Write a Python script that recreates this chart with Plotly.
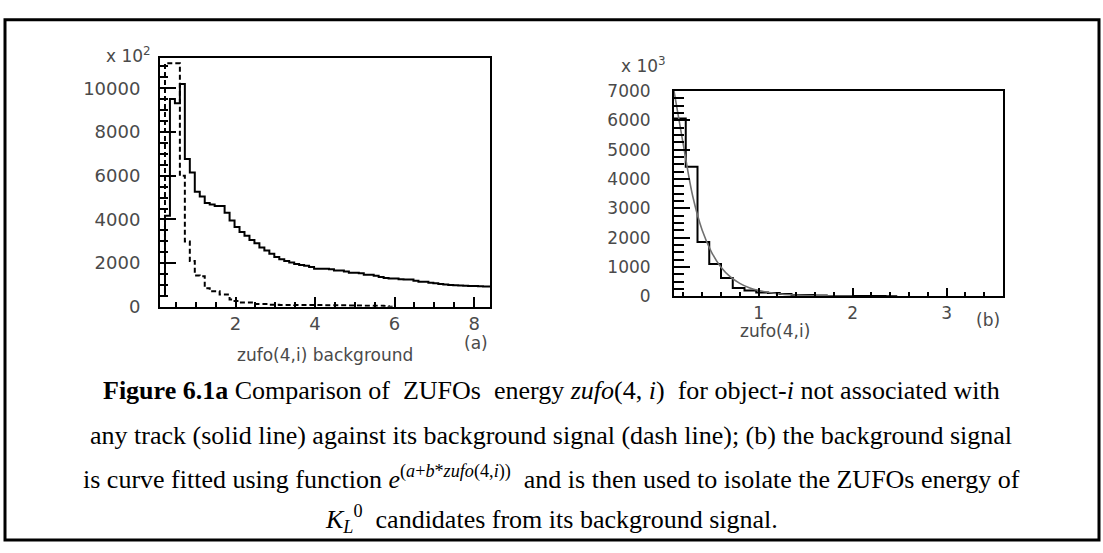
import plotly.graph_objects as go

W, H = 1103, 553

# ---------------- Panel (a): zufo(4,i) vs background ----------------
a_bin_start = 0.1
a_bin_width = 0.125
a_solid = [500, 4170, 9510, 9320, 10200, 6770, 6150, 5270, 5050, 4755,
           4680, 4610, 4610, 4310, 3950, 3650, 3430, 3250, 3060, 2910,
           2720, 2580, 2430, 2280, 2180, 2100, 2030, 1960, 1920, 1880,
           1820, 1740, 1740, 1740, 1720, 1660, 1660, 1620, 1560, 1560,
           1540, 1470, 1470, 1420, 1370, 1320, 1300, 1300, 1260, 1250,
           1250, 1200, 1150, 1150, 1100, 1080, 1050, 1020, 1000, 990,
           980, 970, 960, 950, 940, 930, 930]
a_dashed = [500, 11150, 11150, 11150, 6000, 2990, 2100, 1440, 1400, 855,
            710, 710, 560, 560, 340, 265, 195, 195, 195, 128,
            128, 128, 100, 95, 90, 90, 90, 85, 85, 85,
            80, 80, 80, 75, 75, 75, 70, 70, 65, 60,
            60, 55, 55, 50, 50, 40, 0]
a_xticks = [2, 4, 6, 8]
a_yticks = [0, 2000, 4000, 6000, 8000, 10000]

# ---------------- Panel (b): background with exponential fit ----------------
b_bin_start = 0.1
b_bin_width = 0.125
b_hist = [6060, 4420, 1850, 1100, 620, 280, 200, 130, 110, 80,
          45, 45, 30, 13, 13, 13, 13, 13, 0]
b_fit_x = [0.1, 0.2, 0.3, 0.4, 0.5, 0.6, 0.7, 0.8, 0.9, 1.0, 1.2, 1.4, 1.7, 2.0]
b_fit_y = [7000, 5150, 3400, 2250, 1500, 990, 660, 440, 290, 195, 85, 40, 12, 4]
b_xticks = [1, 2, 3]
b_yticks = [0, 1000, 2000, 3000, 4000, 5000, 6000, 7000]


def step_xy(start, width, vals):
    xs = [start + i * width for i in range(len(vals))]
    xs.append(start + len(vals) * width)
    ys = list(vals) + [vals[-1]]
    return xs, ys


def px(x):
    return x / W


def py(y):
    return 1 - y / H


fig = go.Figure()

ax, ay = step_xy(a_bin_start, a_bin_width, a_solid)
fig.add_trace(go.Scatter(x=ax, y=ay, mode="lines", line_shape="hv",
                         line=dict(color="black", width=2),
                         xaxis="x", yaxis="y", showlegend=False))
dx, dy = step_xy(a_bin_start, a_bin_width, a_dashed)
fig.add_trace(go.Scatter(x=dx, y=dy, mode="lines", line_shape="hv",
                         line=dict(color="black", width=2, dash="5px,3px"),
                         xaxis="x", yaxis="y", showlegend=False))

bx, by = step_xy(b_bin_start, b_bin_width, b_hist)
fig.add_trace(go.Scatter(x=bx, y=by, mode="lines", line_shape="hv",
                         line=dict(color="black", width=2),
                         xaxis="x2", yaxis="y2", showlegend=False))
fig.add_trace(go.Scatter(x=b_fit_x, y=b_fit_y, mode="lines", line_shape="spline",
                         line=dict(color="#707070", width=1.6),
                         xaxis="x2", yaxis="y2", showlegend=False))

tick_font_a = dict(family="DejaVu Sans", size=18, color="#4a4a4a")
tick_font_b = dict(family="DejaVu Sans", size=17, color="#4a4a4a")

# panel geometry in pixels
aL, aR, aT, aB = 160, 490, 50, 308
bL, bR, bT, bB = 674, 1003, 84, 297

fig.update_layout(
    width=W, height=H,
    margin=dict(l=0, r=0, t=0, b=0),
    paper_bgcolor="white", plot_bgcolor="white",
    xaxis=dict(domain=[px(aL), px(aR)], anchor="y", range=[0.1, 8.4],
               tickvals=a_xticks, ticks="inside", ticklen=10, tickwidth=1.5,
               tickcolor="black", showgrid=False, zeroline=False,
               showline=True, linecolor="black", linewidth=2, mirror=True,
               tickfont=tick_font_a, tickformat="d",
               minor=dict(dtick=0.5, tick0=0, ticks="inside", ticklen=5,
                          tickcolor="black", tickwidth=1.5, showgrid=False)),
    yaxis=dict(domain=[py(aB), py(aT)], anchor="x", range=[0, 11380],
               tickvals=a_yticks, ticks="inside", ticklen=16, tickwidth=1.5,
               tickcolor="black", showgrid=False, zeroline=False,
               showline=True, linecolor="black", linewidth=2, mirror=True,
               tickfont=tick_font_a, ticklabelstandoff=14, tickformat="d",
               minor=dict(dtick=500, tick0=0, ticks="inside", ticklen=8,
                          tickcolor="black", tickwidth=1.5, showgrid=False)),
    xaxis2=dict(domain=[px(bL), px(bR)], anchor="y2", range=[0.1, 3.6],
                tickvals=b_xticks, ticks="inside", ticklen=8, tickwidth=1.5,
                tickcolor="black", showgrid=False, zeroline=False,
                showline=True, linecolor="black", linewidth=2, mirror=True,
                tickfont=tick_font_b, tickformat="d",
                minor=dict(dtick=0.2, tick0=0, ticks="inside", ticklen=4,
                           tickcolor="black", tickwidth=1.5, showgrid=False)),
    yaxis2=dict(domain=[py(bB), py(bT)], anchor="x2", range=[0, 7000],
                tickvals=b_yticks, ticks="inside", ticklen=16, tickwidth=1.5,
                tickcolor="black", showgrid=False, zeroline=False,
                showline=True, linecolor="black", linewidth=2, mirror=True,
                tickfont=tick_font_b, ticklabelstandoff=18, tickformat="d",
                minor=dict(dtick=250, tick0=0, ticks="inside", ticklen=10,
                           tickcolor="black", tickwidth=1.5, showgrid=False)),
)

label_font = dict(family="DejaVu Sans", size=17, color="#4a4a4a")
ann = [
    dict(text="x 10<sup>2</sup>", x=px(153), y=py(47), xanchor="right", yanchor="middle"),
    dict(text="x 10<sup>3</sup>", x=px(668), y=py(57), xanchor="right", yanchor="middle"),
    dict(text="zufo(4,i) background", x=px(325), y=py(358), xanchor="center", yanchor="middle"),
    dict(text="(a)", x=px(490), y=py(346), xanchor="right", yanchor="middle"),
    dict(text="zufo(4,i)", x=px(775), y=py(333), xanchor="center", yanchor="middle"),
    dict(text="(b)", x=px(1002), y=py(322), xanchor="right", yanchor="middle"),
]
for a in ann:
    fig.add_annotation(xref="paper", yref="paper", showarrow=False,
                       font=label_font, **a)

cap_font = dict(family="Liberation Serif", size=26, color="black")
caption = [
    ("<b>Figure 6.1a</b> Comparison of  ZUFOs  energy <i>zufo</i>(4, <i>i</i>)  for object-<i>i</i> not associated with", 395),
    ("any track (solid line) against its background signal (dash line); (b) the background signal", 441),
    ("is curve fitted using function <i>e</i><sup>(<i>a</i>+<i>b</i>*<i>zufo</i>(4,<i>i</i>))</sup>  and is then used to isolate the ZUFOs energy of", 485),
    ("<i>K</i><sub><i>L</i></sub><sup>0</sup>  candidates from its background signal.", 528),
]
for t, yy in caption:
    fig.add_annotation(xref="paper", yref="paper", showarrow=False, text=t,
                       x=px(551), y=py(yy), xanchor="center", yanchor="middle",
                       font=cap_font)

# outer frame around the whole figure
fig.add_shape(type="rect", xref="paper", yref="paper",
              x0=px(5), x1=px(1099), y0=py(550), y1=py(10),
              line=dict(color="black", width=3), fillcolor="rgba(0,0,0,0)")

fig.write_html("out.html")
